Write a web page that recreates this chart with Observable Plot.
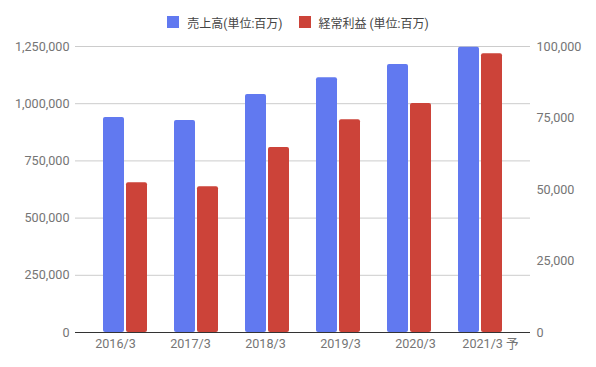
<!DOCTYPE html>
<html><head><meta charset="utf-8">
<script src="https://cdn.jsdelivr.net/npm/d3@7"></script>
<script src="https://cdn.jsdelivr.net/npm/@observablehq/plot@0.6"></script>
<style>
body{margin:0;background:#fff;font-family:Roboto,"Noto Sans CJK JP",sans-serif;}
#legend{height:40px;display:flex;justify-content:center;align-items:center;font-size:12px;color:#444;padding-top:4px;box-sizing:border-box;}
.item{display:flex;align-items:center;margin:0 8px;}
.sw{width:12px;height:12px;margin-right:8px;}
#chart{position:relative;width:596px;height:327px;}
#chart svg{position:absolute;left:0;top:0;}
</style></head>
<body>
<div id="legend"></div>
<div id="chart"></div>
<script>
const categories = ["2016/3","2017/3","2018/3","2019/3","2020/3","2021/3 予"];
const seriesNames = ["売上高(単位:百万)","経常利益 (単位:百万)"];
const sales = [940000, 927000, 1040000, 1113000, 1171000, 1247000];
const profit = [52400, 51000, 64700, 74400, 80100, 97500];
const leftTicks = [0, 250000, 500000, 750000, 1000000, 1250000];
const rightTicks = [0, 25000, 50000, 75000, 100000];
const colors = ["#6179F0", "#CC4339"];
const ratio = 1250000 / 100000;

const rows = [];
categories.forEach((c, i) => {
  rows.push({cat: c, series: seriesNames[0], v: sales[i]});
  rows.push({cat: c, series: seriesNames[1], v: profit[i] * ratio});
});

const legend = document.getElementById("legend");
seriesNames.forEach((s, i) => {
  const d = document.createElement("div"); d.className = "item";
  d.innerHTML = `<span class="sw" style="background:${colors[i]}"></span><span>${s}</span>`;
  legend.appendChild(d);
});

const fmt = d3.format(",");
const common = {
  width: 596, height: 327,
  marginTop: 6, marginBottom: 35, marginLeft: 75, marginRight: 66,
  style: {fontFamily: "Roboto, 'Noto Sans CJK JP', sans-serif", fontSize: "12.6px", color: "#757575", background: "transparent"},
  y: {domain: [0, 1250000], axis: null}
};

// Base layer: grid, axes, category labels
const base = Plot.plot({
  ...common,
  x: {domain: categories, paddingInner: 0.387, paddingOuter: 0.362, label: null, axis: null},
  marks: [
    Plot.ruleY(leftTicks, {stroke: "#cccccc"}),
    Plot.axisY(leftTicks, {anchor: "left", tickSize: 0, tickPadding: 6, tickFormat: fmt, label: null}),
    Plot.axisY(rightTicks.map(v => v * ratio), {anchor: "right", tickSize: 0, tickPadding: 6, tickFormat: d => fmt(Math.round(d / ratio)), label: null}),
    Plot.axisX({tickSize: 0, tickPadding: 7, label: null})
  ]
});

// Bars layer: grouped bars via fx facets
const bars = Plot.plot({
  ...common,
  fx: {domain: categories, paddingInner: 0.387, paddingOuter: 0.362, label: null, axis: null},
  x: {domain: seriesNames, paddingInner: 0.087, paddingOuter: 0, axis: null},
  color: {domain: seriesNames, range: colors},
  marks: [
    Plot.barY(rows, {fx: "cat", x: "series", y: "v", fill: "series", rx: 2})
  ]
});

// Top layer: baseline
const baseline = Plot.plot({
  ...common,
  x: {domain: categories, paddingInner: 0.387, paddingOuter: 0.362, axis: null},
  marks: [Plot.ruleY([0], {stroke: "#333333"})]
});

const el = document.getElementById("chart");
el.appendChild(base);
el.appendChild(bars);
el.appendChild(baseline);
</script>
</body></html>
